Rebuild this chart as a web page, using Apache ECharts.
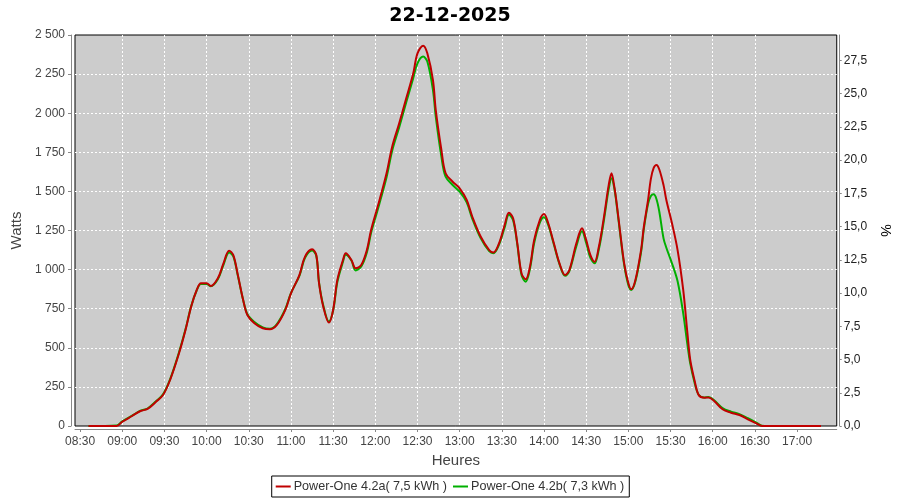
<!DOCTYPE html>
<html>
<head>
<meta charset="utf-8">
<script src="https://cdn.jsdelivr.net/npm/echarts@6/dist/echarts.min.js"></script>
<style>html,body{margin:0;padding:0;background:#fff}#c{width:900px;height:500px}</style>
</head>
<body>
<div id="c"></div>
<script>
// time in minutes since midnight
const times = [516,536,540,547,553,558,564,569,574,580,585,589,593,596,600,603,608,612,616,619,622,626,629,634,640,645,650,656,660,666,670,675,678,680,683,687,690,693,697,699,703,706,710,714,717,721,723,728,732,737,742,747,750,754,757,761,763,767,770,775,780,785,789,795,801,804,808,812,815,818,821,824,827,830,833,837,840,843,847,851,855,858,863,867,870,873,876,879,882,884,886,888,890,892,894,897,900,902,905,909,911,914,916,918,920,922,925,927,931,935,939,942,944,947,950,954,957,961,967,973,979,985,991,995,1000,1037];
const wattsA = [0,0,27,64,96,109,155,198,294,454,614,763,870,912,912,895,944,1040,1121,1093,976,806,710,657,625,618,646,742,848,965,1083,1130,1093,912,763,661,742,934,1061,1104,1061,1008,1029,1125,1253,1381,1445,1616,1786,1936,2095,2255,2383,2432,2383,2212,2020,1765,1616,1562,1520,1445,1338,1210,1125,1110,1168,1285,1364,1328,1168,976,938,1019,1189,1317,1355,1296,1168,1040,965,997,1168,1264,1189,1093,1050,1146,1300,1420,1540,1616,1530,1400,1250,1040,912,874,934,1125,1274,1445,1580,1650,1669,1640,1540,1445,1296,1125,870,593,422,294,198,181,183,160,107,85,70,43,17,0,0,0];
const wattsB = [0,4,30,66,98,112,158,202,298,460,618,765,868,908,908,893,938,1030,1110,1085,970,806,715,665,630,622,652,748,850,960,1075,1122,1088,915,770,668,738,920,1050,1095,1058,995,1020,1110,1235,1360,1425,1590,1760,1910,2070,2225,2319,2362,2330,2148,1978,1722,1594,1541,1498,1430,1325,1200,1118,1105,1160,1270,1350,1315,1160,965,923,1005,1170,1300,1334,1285,1160,1035,960,990,1150,1245,1170,1075,1040,1130,1280,1400,1515,1584,1520,1390,1240,1030,900,870,925,1110,1260,1420,1470,1481,1450,1370,1200,1140,1040,925,720,520,400,280,200,183,185,165,115,92,76,50,22,2,0,0];
const xTicks = [510,540,570,600,630,660,690,720,750,780,810,840,870,900,930,960,990,1020];
const nameA = 'Power-One 4.2a( 7,5 kWh )';
const nameB = 'Power-One 4.2b( 7,3 kWh )';
const titleText = '22-12-2025';

const pad = n => (n < 10 ? '0' : '') + n;
const fmtTime = v => pad(Math.floor(v / 60)) + ':' + pad(Math.round(v % 60));
const fmtW = v => { const s = String(Math.round(v)); return s.length > 3 ? s.slice(0, s.length - 3) + ' ' + s.slice(-3) : s; };
const F = 'Liberation Sans';

const chart = echarts.init(document.getElementById('c'), null, {renderer: 'canvas'});
chart.setOption({
  animation: false,
  backgroundColor: '#ffffff',
  title: {
    text: titleText, left: 'center', top: 2,
    textStyle: {fontFamily: 'DejaVu Sans', fontWeight: 'bold', fontSize: 19, color: '#000'}
  },
  grid: {
    left: 75, right: 62, top: 35, bottom: 74,
    show: true, backgroundColor: '#cccccc', borderColor: '#000', borderWidth: 1
  },
  legend: {
    data: [nameA, nameB],
    left: 'center', top: 476,
    borderColor: '#000', borderWidth: 1, borderRadius: 0,
    padding: [4, 5, 4, 4], itemGap: 6,
    icon: 'rect', itemWidth: 15, itemHeight: 2,
    textStyle: {fontFamily: F, fontSize: 12.6, color: '#333', padding: [0, 0, 0, -2]}
  },
  xAxis: {
    type: 'value', min: 506.4, max: 1048.2,
    offset: 3,
    name: 'Heures', nameLocation: 'middle', nameGap: 23,
    nameTextStyle: {fontFamily: F, fontSize: 15, color: '#444'},
    axisLine: {show: true, onZero: false, lineStyle: {color: '#888', width: 1}},
    axisTick: {show: true, length: 3, customValues: xTicks, lineStyle: {color: '#888'}},
    axisLabel: {customValues: xTicks, formatter: fmtTime, fontFamily: F, fontSize: 12, color: '#444', margin: 7},
    splitLine: {show: true, showMinLine: false, showMaxLine: false, lineStyle: {color: '#ffffff', type: [2, 2], width: 1}}
  },
  yAxis: [{
    type: 'value', min: 0, max: 2500, interval: 250, position: 'left', offset: 4,
    name: 'Watts', nameLocation: 'middle', nameGap: 36, nameRotate: 90,
    nameTextStyle: {fontFamily: F, fontSize: 15, color: '#444'},
    axisLine: {show: true, lineStyle: {color: '#888'}},
    axisTick: {show: true, length: 3, lineStyle: {color: '#888'}},
    axisLabel: {formatter: fmtW, fontFamily: F, fontSize: 12, color: '#444', margin: 6},
    splitLine: {show: true, showMinLine: false, showMaxLine: false, lineStyle: {color: '#ffffff', type: [2, 2], width: 1}}
  }, {
    type: 'value', min: 0, max: 29.41, interval: 2.5, position: 'right', offset: 3,
    name: '%', nameLocation: 'middle', nameGap: 32, nameRotate: -90,
    nameTextStyle: {fontFamily: F, fontSize: 14, color: '#000'},
    axisLine: {show: true, lineStyle: {color: '#888'}},
    axisTick: {show: true, length: 2, lineStyle: {color: '#888'}},
    axisLabel: {showMaxLabel: false, formatter: v => v.toFixed(1).replace('.', ','), fontFamily: F, fontSize: 12, color: '#222', margin: 4},
    splitLine: {show: false}
  }],
  series: [{
    name: nameB, type: 'line', smooth: 0.35, showSymbol: false, symbol: 'none',
    data: times.map((t, i) => [t, wattsB[i]]),
    lineStyle: {color: '#00b000', width: 2}, itemStyle: {color: '#00b000'}, z: 3
  }, {
    name: nameA, type: 'line', smooth: 0.35, showSymbol: false, symbol: 'none',
    data: times.map((t, i) => [t, wattsA[i]]),
    lineStyle: {color: '#c00000', width: 2}, itemStyle: {color: '#c00000'}, z: 4
  }]
});
</script>
</body>
</html>
